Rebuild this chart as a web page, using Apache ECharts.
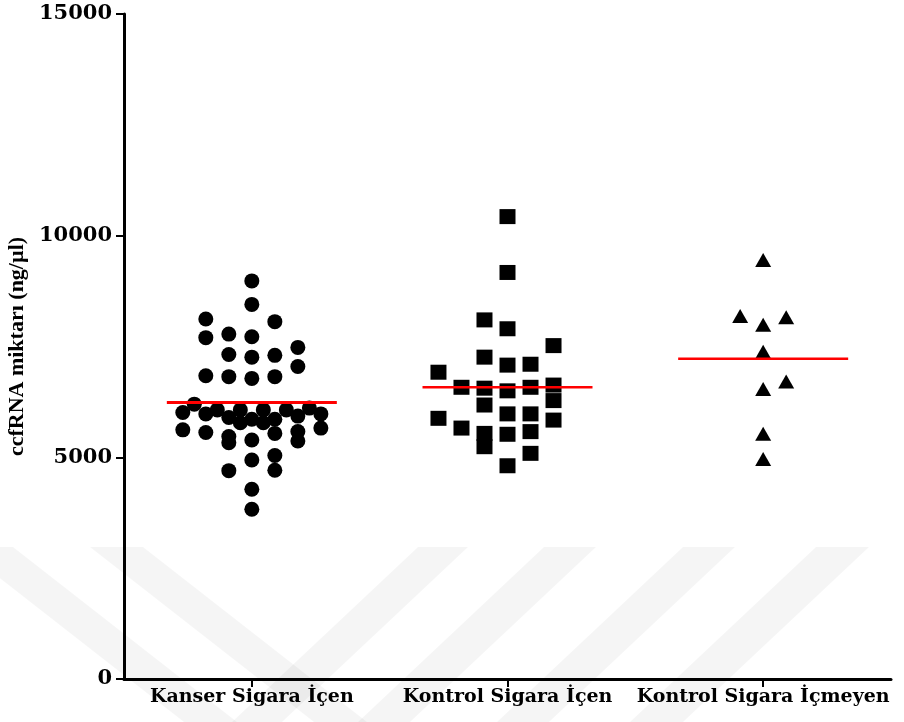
<!DOCTYPE html>
<html>
<head>
<meta charset="utf-8">
<script src="https://cdn.jsdelivr.net/npm/echarts@6/dist/echarts.min.js"></script>
<style>
  html, body { margin: 0; padding: 0; background: #ffffff; }
  #chart { width: 904px; height: 722px; }
</style>
</head>
<body>
<div id="chart"></div>
<script>
// Groups shown along the x axis
const categories = ['Kanser Sigara İçen', 'Kontrol Sigara İçen', 'Kontrol Sigara İçmeyen'];

// ccfRNA amounts (ng/µl) per subject, with the scatter column each dot sits in
// (columns are counted in half-column steps from the group centre)
const kanserValues = [8980, 8450, 8120, 8060, 7700, 7780, 7720, 7480, 7320, 7260, 7300, 7050,
  6840, 6820, 6780, 6820, 6200, 6010, 5980, 6070, 5900, 6070, 5780, 5860, 6070, 5780, 5860,
  6070, 5930, 6110, 5980, 5620, 5560, 5470, 5330, 5390, 5540, 5580, 5370, 5660, 4940, 5040,
  4710, 4700, 4280, 3830];
const kanserColumns = [0, 0, -4, 2, -4, -2, 0, 4, -2, 0, 2, 4,
  -4, -2, 0, 2, -5, -6, -4, -3, -2, -1, -1, 0, 1, 1, 2,
  3, 4, 5, 6, -6, -4, -2, -2, 0, 2, 4, 4, 6, 0, 2,
  2, -2, 0, 0];

const kontrolIcenValues = [10430, 9170, 8100, 7900, 7520, 7260, 7080, 7100, 6920, 6580, 6560,
  6500, 6580, 6630, 6280, 6180, 5980, 5980, 5880, 5840, 5660, 5540, 5580, 5520, 5240, 5090, 4810];
const kontrolIcenColumns = [0, 0, -2, 0, 4, -2, 0, 2, -6, -4, -2,
  0, 2, 4, 4, -2, 0, 2, -6, 4, -4, -2, 2, 0, -2, 2, 0];

const kontrolIcmeyenValues = [9450, 8190, 7990, 8160, 7380, 6710, 6540, 5530, 4960];
const kontrolIcmeyenColumns = [0, -2, 0, 2, 0, 2, 0, 0, 0];

// Group means (red bars)
const groupMeans = [6235, 6580, 7225];

// Y axis range and tick step
const yMin = 0;
const yMax = 15000;
const yStep = 5000;

const HALF_COLUMN = 0.045; // half a dot column, in group units
const MEAN_HALF_WIDTH = 85; // px

function toPoints(groupIndex, values, columns) {
  return values.map((v, i) => [groupIndex + columns[i] * HALF_COLUMN, v]);
}

const serif = '"Liberation Serif", "Times New Roman", serif';
const wideSerif = '"DejaVu Serif", serif';
const band = 'rgba(0,0,0,0.04)';

const chart = echarts.init(document.getElementById('chart'), null, { renderer: 'canvas' });

chart.setOption({
  backgroundColor: '#ffffff',
  animation: false,
  graphic: {
    elements: [
      { type: 'polygon', z: -10, silent: true, shape: { points: [[-40, 547], [13, 547], [237, 722], [184, 722]] }, style: { fill: band } },
      { type: 'polygon', z: -10, silent: true, shape: { points: [[90, 547], [143, 547], [367, 722], [314, 722]] }, style: { fill: band } },
      { type: 'polygon', z: -10, silent: true, shape: { points: [[418, 547], [468, 547], [282, 722], [232, 722]] }, style: { fill: band } },
      { type: 'polygon', z: -10, silent: true, shape: { points: [[544, 547], [596, 547], [410, 722], [358, 722]] }, style: { fill: band } },
      { type: 'polygon', z: -10, silent: true, shape: { points: [[683, 547], [735, 547], [549, 722], [497, 722]] }, style: { fill: band } },
      { type: 'polygon', z: -10, silent: true, shape: { points: [[816, 547], [869, 547], [683, 722], [630, 722]] }, style: { fill: band } }
    ]
  },
  grid: { left: 124, right: 13, top: 14, bottom: 43, containLabel: false, outerBoundsMode: 'none' },
  xAxis: [
    {
      type: 'category',
      data: categories,
      boundaryGap: true,
      axisLine: { show: true, onZero: false, lineStyle: { color: '#000', width: 3 } },
      axisTick: { show: true, alignWithLabel: true, length: 8, lineStyle: { color: '#000', width: 2 } },
      axisLabel: { color: '#000', fontFamily: wideSerif, fontWeight: 'bold', fontSize: 19, margin: 9, interval: 0 },
      splitLine: { show: false }
    },
    {
      type: 'value',
      min: -0.5,
      max: 2.5,
      show: false
    }
  ],
  yAxis: {
    type: 'value',
    min: yMin,
    max: yMax,
    interval: yStep,
    name: 'ccfRNA miktarı (ng/µl)',
    nameLocation: 'middle',
    nameGap: 93,
    nameRotate: 90,
    nameTextStyle: { color: '#000', fontFamily: serif, fontWeight: 'bold', fontSize: 22 },
    axisLine: { show: true, onZero: false, lineStyle: { color: '#000', width: 3 } },
    axisTick: { show: true, length: 8, lineStyle: { color: '#000', width: 2 } },
    axisLabel: {
      color: '#000', fontFamily: wideSerif, fontWeight: 'bold', fontSize: 21, margin: 12,
      formatter: function (v) { return String(v); }
    },
    splitLine: { show: false }
  },
  series: [
    {
      name: categories[0],
      type: 'scatter',
      xAxisIndex: 1,
      symbol: 'circle',
      symbolSize: 15,
      itemStyle: { color: '#000', opacity: 1 },
      data: toPoints(0, kanserValues, kanserColumns),
      z: 3
    },
    {
      name: categories[1],
      type: 'scatter',
      xAxisIndex: 1,
      symbol: 'rect',
      symbolSize: [16, 15],
      itemStyle: { color: '#000', opacity: 1 },
      data: toPoints(1, kontrolIcenValues, kontrolIcenColumns),
      z: 3
    },
    {
      name: categories[2],
      type: 'scatter',
      xAxisIndex: 1,
      symbol: 'triangle',
      symbolSize: [16, 14],
      itemStyle: { color: '#000', opacity: 1 },
      data: toPoints(2, kontrolIcmeyenValues, kontrolIcmeyenColumns),
      z: 3
    },
    {
      name: 'mean',
      type: 'custom',
      xAxisIndex: 1,
      z: 5,
      data: groupMeans.map((m, i) => [i, m]),
      renderItem: function (params, api) {
        const c = api.coord([api.value(0), api.value(1)]);
        return {
          type: 'line',
          shape: { x1: c[0] - MEAN_HALF_WIDTH, y1: c[1], x2: c[0] + MEAN_HALF_WIDTH, y2: c[1] },
          style: { stroke: '#ff0000', lineWidth: params.dataIndex === 0 ? 3 : 2.5 }
        };
      }
    }
  ]
});
</script>
</body>
</html>
